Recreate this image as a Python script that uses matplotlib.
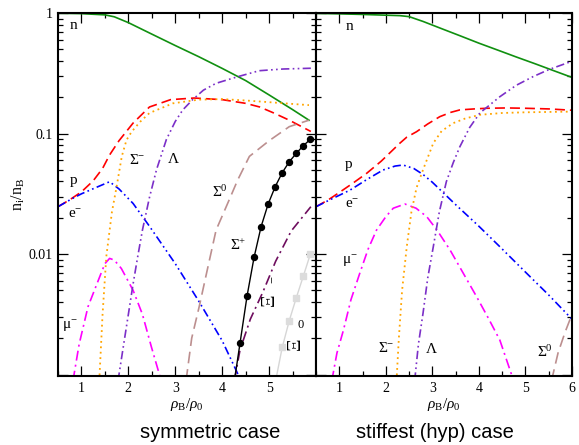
import numpy as np
import matplotlib
matplotlib.use('Agg')
import matplotlib.pyplot as plt
from matplotlib.ticker import LogLocator, MultipleLocator, NullFormatter, FixedLocator

plt.rcParams['font.family'] = ['Liberation Serif', 'DejaVu Serif']
plt.rcParams['mathtext.fontset'] = 'custom'
plt.rcParams['mathtext.rm'] = 'Liberation Serif'
plt.rcParams['mathtext.it'] = 'Liberation Serif:italic'

# ---------------- symmetric case (left) ----------------
xn_l = [0.5, 1.0, 1.5, 1.7, 2.0, 2.5, 3.0, 3.5, 4.0, 4.5, 5.0, 5.5, 5.85]
n_l = [0.995, 0.988, 0.965, 0.93, 0.832, 0.668, 0.537, 0.434, 0.347, 0.275, 0.209, 0.158, 0.129]

xp_l = [0.5, 0.75, 1.0, 1.25, 1.45, 1.6, 1.8, 2.1, 2.45, 2.9, 3.4, 4.0, 4.5, 4.8, 5.1, 5.43, 5.89]
p_l = [0.0247, 0.0282, 0.0328, 0.0405, 0.0513, 0.0664, 0.0871, 0.122, 0.166, 0.191, 0.197, 0.191,
       0.178, 0.166, 0.148, 0.129, 0.104]

xe_l = [0.5, 0.8, 1.0, 1.3, 1.6, 1.8, 2.1, 2.45, 3.0, 3.5, 4.0, 4.29, 4.4]
e_l = [0.0247, 0.0288, 0.0316, 0.0355, 0.0398, 0.0347, 0.0263, 0.0170, 0.00832, 0.00407, 0.00191,
       0.0011, 0.00089]

xmu_l = [0.82, 0.95, 1.14, 1.39, 1.5, 1.6, 1.7, 1.85, 2.1, 2.3, 2.49, 2.7]
mu_l = [0.00089, 0.00178, 0.00366, 0.00649, 0.00832, 0.0092, 0.00891, 0.00759, 0.00501, 0.00316,
        0.0017, 0.00089]

xsm_l = [1.38, 1.45, 1.53, 1.65, 1.75, 1.86, 1.96, 2.07, 2.25, 2.45, 2.95, 3.5, 4.0, 4.5, 5.0, 5.5, 5.85]
sm_l = [0.00089, 0.00316, 0.00955, 0.0224, 0.0363, 0.0646, 0.0883, 0.1035, 0.125, 0.148, 0.178,
        0.191, 0.193, 0.188, 0.182, 0.176, 0.172]

xla_l = [1.78, 1.9, 2.0, 2.1, 2.2, 2.3, 2.45, 2.6, 2.81, 3.0, 3.16, 3.37, 3.6, 3.87, 4.33, 4.79, 5.3, 5.89]
la_l = [0.00089, 0.00178, 0.00316, 0.00562, 0.00955, 0.0158, 0.0295, 0.0501, 0.0891, 0.126, 0.157,
        0.191, 0.229, 0.261, 0.296, 0.332, 0.343, 0.348]

xs0_l = [3.23, 3.35, 3.51, 3.7, 3.87, 4.15, 4.33, 4.58, 5.0, 5.43, 5.85]
s0_l = [0.00089, 0.002, 0.00366, 0.00794, 0.0158, 0.0282, 0.0411, 0.0646, 0.0871, 0.114, 0.129]

xsp_l = [4.23, 4.38, 4.53, 4.68, 4.83, 4.98, 5.13, 5.28, 5.43, 5.58, 5.73, 5.88]
sp_l = [0.00074, 0.00182, 0.00448, 0.0094, 0.0169, 0.026, 0.0362, 0.0473, 0.0583, 0.0685, 0.0793, 0.0895]

xxm_l = [4.26, 4.38, 4.6, 4.87, 5.14, 5.47, 5.7, 5.89]
xm_l = [0.00089, 0.0016, 0.00288, 0.00486, 0.00871, 0.0155, 0.02, 0.0247]

xx0_l = [5.13, 5.28, 5.43, 5.58, 5.73, 5.88]
x0_l = [0.00085, 0.00168, 0.0028, 0.00434, 0.00656, 0.01]

# ---------------- stiffest (hyp) case (right) ----------------
xn_r = [0.5, 1.0, 1.5, 2.0, 2.3, 2.5, 2.8, 3.2, 3.6, 4.0, 4.4, 4.8, 5.2, 5.6, 6.0]
n_r = [0.993, 0.984, 0.973, 0.959, 0.951, 0.933, 0.851, 0.741, 0.646, 0.562, 0.493, 0.432, 0.380,
       0.333, 0.292]

xp_r = [0.5, 0.76, 1.0, 1.3, 1.59, 1.9, 2.3, 2.45, 2.66, 2.9, 3.16, 3.4, 3.59, 3.9, 4.16, 4.6, 5.0, 5.5, 6.0]
p_r = [0.0247, 0.0281, 0.0324, 0.0389, 0.0468, 0.0589, 0.083, 0.0933, 0.1035, 0.120, 0.138, 0.150,
       0.157, 0.160, 0.162, 0.163, 0.162, 0.160, 0.156]

xe_r = [0.5, 0.8, 1.23, 1.6, 1.94, 2.2, 2.37, 2.6, 2.8, 3.0, 3.5, 4.0, 4.45, 5.0, 5.5, 6.0]
e_r = [0.0247, 0.0282, 0.0339, 0.0417, 0.0498, 0.0537, 0.0548, 0.0513, 0.0457, 0.0394, 0.0257,
       0.0170, 0.0115, 0.00708, 0.00457, 0.00288]

xmu_r = [0.84, 0.95, 1.09, 1.25, 1.44, 1.62, 1.8, 2.0, 2.16, 2.41, 2.65, 2.88, 3.1, 3.38, 3.65, 3.95,
         4.2, 4.45, 4.75]
mu_r = [0.00089, 0.00151, 0.00234, 0.00417, 0.00692, 0.011, 0.0158, 0.0204, 0.024, 0.026, 0.024,
        0.0204, 0.0158, 0.0108, 0.00708, 0.00443, 0.00295, 0.00193, 0.00088]

xsm_r = [2.23, 2.28, 2.35, 2.45, 2.55, 2.66, 2.8, 3.02, 3.2, 3.45, 3.7, 4.02, 4.5, 5.0, 5.5, 6.0]
sm_r = [0.00089, 0.002, 0.00501, 0.0115, 0.0224, 0.0355, 0.0501, 0.0832, 0.105, 0.122, 0.133, 0.143,
        0.148, 0.150, 0.151, 0.152]

xla_r = [2.62, 2.7, 2.8, 2.9, 3.02, 3.15, 3.3, 3.45, 3.59, 3.8, 4.02, 4.45, 4.8, 5.16, 5.5, 6.0]
la_r = [0.00089, 0.00178, 0.00324, 0.00631, 0.0115, 0.0224, 0.0398, 0.0575, 0.0776, 0.112, 0.148,
        0.202, 0.251, 0.296, 0.339, 0.398]

xs0_r = [5.56, 5.7, 5.85, 6.0]
s0_r = [0.00089, 0.00151, 0.00224, 0.00316]

# styles
dash_p = (0, (6, 3))
dash_s0 = (0, (7, 3.5))
dashdotdot = (0, (5, 2, 1, 2, 1, 2))
dashdot = (0, (6, 2.5, 1.2, 2.5))
dotted = (0, (1, 2))

fig = plt.figure(figsize=(5.79, 4.45), dpi=100)
axL = fig.add_axes([58 / 579, 1 - 376 / 445, 258 / 579, 363 / 445])
axR = fig.add_axes([316 / 579, 1 - 376 / 445, 256 / 579, 363 / 445])

# left panel curves
axL.plot(xn_l, n_l, color='#109010', lw=1.2)
axL.plot(xp_l, p_l, color='red', lw=1.2, ls=dash_p)
axL.plot(xe_l, e_l, color='blue', lw=1.2, ls=dashdotdot)
axL.plot(xmu_l, mu_l, color='magenta', lw=1.2, ls=dashdot)
axL.plot(xsm_l, sm_l, color='orange', lw=1.3, ls=dotted)
axL.plot(xla_l, la_l, color='#7b2fc8', lw=1.2, ls=dashdotdot)
axL.plot(xs0_l, s0_l, color='#bc8f8f', lw=1.2, ls=dash_s0)
axL.plot(xxm_l, xm_l, color='#6e0d5e', lw=1.2, ls=dashdot)
axL.plot(xsp_l, sp_l, color='black', lw=1.0, marker='o', ms=4.3)
axL.plot(xx0_l, x0_l, color='#d6d6d6', lw=1.0, marker='s', ms=4, mfc='#dcdcdc', mec='#dcdcdc')

# right panel curves
axR.plot(xn_r, n_r, color='#109010', lw=1.2)
axR.plot(xp_r, p_r, color='red', lw=1.2, ls=dash_p)
axR.plot(xe_r, e_r, color='blue', lw=1.2, ls=dashdotdot)
axR.plot(xmu_r, mu_r, color='magenta', lw=1.2, ls=dashdot)
axR.plot(xsm_r, sm_r, color='orange', lw=1.3, ls=dotted)
axR.plot(xla_r, la_r, color='#7b2fc8', lw=1.2, ls=dashdotdot)
axR.plot(xs0_r, s0_r, color='#bc8f8f', lw=1.2, ls=dash_s0)

for ax in (axL, axR):
    ax.set_yscale('log')
    ax.set_xlim(0.5, 6.0)
    ax.set_ylim(10 ** -3.012, 1.0)
    ax.yaxis.set_major_locator(FixedLocator([0.001, 0.01, 0.1, 1.0]))
    ax.yaxis.set_minor_locator(LogLocator(base=10, subs=np.arange(2, 10)))
    ax.yaxis.set_minor_formatter(NullFormatter())
    ax.xaxis.set_minor_locator(MultipleLocator(0.5))
    ax.tick_params(which='both', direction='in', top=True, right=True, width=0.9, labelsize=10)
    ax.tick_params(which='major', length=7, pad=4)
    ax.tick_params(which='minor', length=3.5)
    for s in ax.spines.values():
        s.set_linewidth(1.5)
    ax.set_xlabel(r'$\rho_{\mathrm{B}}/\rho_{0}$', fontsize=11, labelpad=1)

axL.set_xticks([1, 2, 3, 4, 5])
axL.set_yticklabels(['', '0.01', '0.1', '1'])
axR.set_xticks([1, 2, 3, 4, 5, 6])
axR.tick_params(labelleft=False)
axL.set_ylabel(r'n$_{\mathrm{i}}$/n$_{\mathrm{B}}$', fontsize=11.5, labelpad=1)

fs = 11
# left labels
axL.text(0.83, 0.79, 'n', fontsize=fs, ha='center', va='center')
axL.text(0.83, 0.041, 'p', fontsize=fs, ha='center', va='center')
axL.text(0.87, 0.0211, 'e$^{-}$', fontsize=fs, ha='center', va='center')
axL.text(0.76, 0.00251, 'μ$^{-}$', fontsize=fs, ha='center', va='center')
axL.text(2.18, 0.0603, 'Σ$^{-}$', fontsize=fs, ha='center', va='center')
axL.text(2.96, 0.0603, 'Λ', fontsize=fs, ha='center', va='center')
axL.text(3.95, 0.0324, 'Σ$^{0}$', fontsize=fs, ha='center', va='center')
axL.text(4.35, 0.0119, 'Σ$^{+}$', fontsize=fs, ha='center', va='center')
axL.text(5.01, 0.0042, 'Ξ', fontsize=14, ha='center', va='center', rotation=90)
axL.text(5.1, 0.0061, '−', fontsize=9, ha='center', va='center', rotation=90)
axL.text(5.56, 0.0018, 'Ξ', fontsize=14, ha='center', va='center', rotation=90)
axL.text(5.68, 0.0026, '0', fontsize=9, ha='center', va='center')

# right labels
axR.text(1.21, 0.78, 'n', fontsize=fs, ha='center', va='center')
axR.text(1.21, 0.0548, 'p', fontsize=fs, ha='center', va='center')
axR.text(1.27, 0.0255, 'e$^{-}$', fontsize=fs, ha='center', va='center')
axR.text(1.23, 0.0086, 'μ$^{-}$', fontsize=fs, ha='center', va='center')
axR.text(2.0, 0.00166, 'Σ$^{-}$', fontsize=fs, ha='center', va='center')
axR.text(2.98, 0.00162, 'Λ', fontsize=fs, ha='center', va='center')
axR.text(5.41, 0.00155, 'Σ$^{0}$', fontsize=fs, ha='center', va='center')

fig.text(210 / 579, 1 - 433 / 445, 'symmetric case', ha='center', va='center',
         fontsize=14.5, family='Liberation Sans')
fig.text(435 / 579, 1 - 433 / 445, 'stiffest (hyp) case', ha='center', va='center',
         fontsize=14.5, family='Liberation Sans')

fig.savefig('out.png', dpi=100)
